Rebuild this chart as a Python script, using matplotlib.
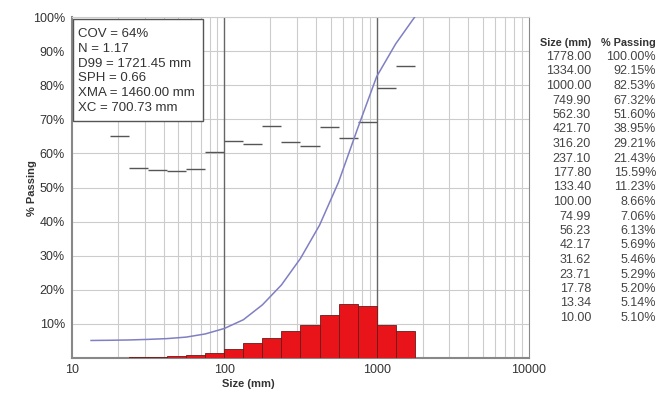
import numpy as np
import matplotlib
matplotlib.use("Agg")
import matplotlib.pyplot as plt
from matplotlib.patches import Rectangle

plt.rcParams['font.family'] = ['Liberation Sans', 'DejaVu Sans']

# size classes (mm) and cumulative % passing, as in the table
sizes = [1778.00, 1334.00, 1000.00, 749.90, 562.30, 421.70, 316.20, 237.10, 177.80,
         133.40, 100.00, 74.99, 56.23, 42.17, 31.62, 23.71, 17.78, 13.34, 10.00]
passing = [100.00, 92.15, 82.53, 67.32, 51.60, 38.95, 29.21, 21.43, 15.59,
           11.23, 8.66, 7.06, 6.13, 5.69, 5.46, 5.29, 5.20, 5.14, 5.10]

# retained % per class (bars), bin edges from 23.71 mm up to 1778 mm
bar_lo = [23.71, 31.62, 42.17, 56.23, 74.99, 100.00, 133.40, 177.80, 237.10,
          316.20, 421.70, 562.30, 749.90, 1000.00, 1334.00]
bar_hi = [31.62, 42.17, 56.23, 74.99, 100.00, 133.40, 177.80, 237.10, 316.20,
          421.70, 562.30, 749.90, 1000.00, 1334.00, 1778.00]
retained = [0.17, 0.23, 0.44, 0.93, 1.60, 2.57, 4.36, 5.84, 7.78,
            9.74, 12.65, 15.72, 15.21, 9.62, 7.85]

# short grey dashes per size class
dash_lo = [17.78, 23.71, 31.62, 42.17, 56.23, 74.99, 100.00, 133.40, 177.80,
           237.10, 316.20, 421.70, 562.30, 749.90, 1000.00, 1334.00]
dash_hi = [23.71, 31.62, 42.17, 56.23, 74.99, 100.00, 133.40, 177.80, 237.10,
           316.20, 421.70, 562.30, 749.90, 1000.00, 1334.00, 1778.00]
dash_y = [65.0, 55.6, 55.0, 54.7, 55.3, 60.4, 63.7, 62.8, 67.9,
          63.4, 62.3, 67.6, 64.5, 69.1, 79.3, 85.6]

stats = ["COV = 64%", "N = 1.17", "D99 = 1721.45 mm", "SPH = 0.66",
         "XMA = 1460.00 mm", "XC = 700.73 mm"]

W, H = 657, 399
fig = plt.figure(figsize=(W / 100, H / 100), dpi=100)
ax = fig.add_axes([72 / W, 1 - 358 / H, 457 / W, 341 / H])

ax.set_xscale('log')
ax.set_xlim(10, 10000)
ax.set_ylim(0, 100)

# grid
ax.grid(True, which='minor', axis='x', color='#cccccc', lw=0.8)
ax.grid(True, which='major', axis='y', color='#cccccc', lw=0.8)
for v in [100, 1000]:
    ax.axvline(v, color='#666666', lw=1.0, zorder=1)
ax.set_axisbelow(True)

# bars
lo = np.array(bar_lo)
hi = np.array(bar_hi)
ax.bar(lo, retained, width=hi - lo, align='edge', color='#e8141a',
       edgecolor='#6a1a1a', lw=0.6, zorder=3)

# dashes
ax.hlines(dash_y, dash_lo, dash_hi, color='#555555', lw=1.0, zorder=3)

# passing curve
ax.plot(sizes[:-1], passing[:-1], color='#7f7fc4', lw=1.1, zorder=4)

# axes styling
ax.set_yticks(np.arange(10, 101, 10))
ax.set_yticklabels([f"{v}%" for v in range(10, 101, 10)])
ax.set_xticks([10, 100, 1000, 10000])
ax.set_xticklabels(["10", "100", "1000", "10000"])
ax.tick_params(axis='both', which='both', length=0, labelsize=9, colors='#333333')
ax.tick_params(axis='x', pad=4)
ax.tick_params(axis='y', pad=5)
for s in ['left', 'bottom']:
    ax.spines[s].set_color('#888888')
    ax.spines[s].set_linewidth(1.5)
ax.spines['right'].set_color('#888888')
ax.spines['top'].set_color('#cccccc')

fig.text(32 / W, 1 - 188 / H, "% Passing", rotation=90, ha='center', va='center',
         fontsize=8, fontweight='bold', color='#333333')
fig.text(248 / W, 1 - 384 / H, "Size (mm)", ha='center', va='center',
         fontsize=8, fontweight='bold', color='#333333')

# stats box
fig.patches.append(Rectangle((73 / W, 1 - 121 / H), 130 / W, 102 / H,
                             transform=fig.transFigure, fc='white', ec='#555555',
                             lw=1.0, zorder=6))
for i, line in enumerate(stats):
    fig.text(78 / W, 1 - (34 + i * 14.8) / H, line, ha='left', va='center',
             fontsize=9.5, color='#333333', zorder=7)

# table on right
y0 = 57
dy = (318 - 57) / (len(sizes) - 1)
fig.text(591 / W, 1 - 43 / H, "Size (mm)", ha='right', va='center',
         fontsize=7.8, fontweight='bold', color='#333333')
fig.text(656 / W, 1 - 43 / H, "% Passing", ha='right', va='center',
         fontsize=7.8, fontweight='bold', color='#333333')
for i, (s, p) in enumerate(zip(sizes, passing)):
    yy = 1 - (y0 + i * dy) / H
    fig.text(591 / W, yy, f"{s:.2f}", ha='right', va='center', fontsize=9, color='#444444')
    fig.text(656 / W, yy, f"{p:.2f}%", ha='right', va='center', fontsize=9, color='#444444')

fig.savefig("out.png", dpi=100)
